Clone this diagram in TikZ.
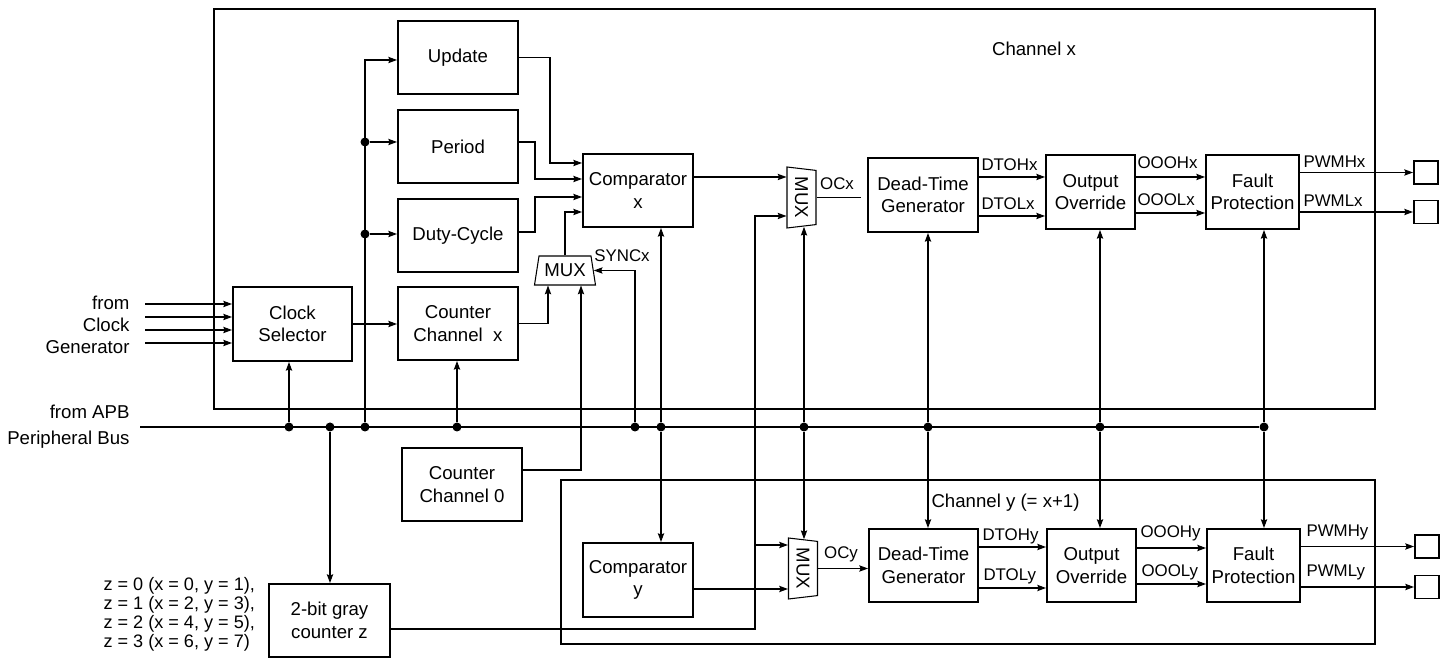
\documentclass[tikz,border=0pt]{standalone}
\usepackage{fontspec}
\setmainfont{Liberation Sans}
\usetikzlibrary{arrows.meta}
\usetikzlibrary{shapes.geometric}

\begin{document}
\begin{tikzpicture}[x=0.02cm,y=-0.02cm,line width=0.6pt,
  >={Stealth[length=5pt,width=3.6pt,inset=0.8pt]},
  blk/.style={draw,line width=1.1pt,align=center,inner sep=1pt,minimum width=2.4cm,minimum height=1.46cm,font=\fontsize{10.6}{12.7}\selectfont},
  frame/.style={draw,line width=1.2pt},
  mux/.style={draw,trapezium,trapezium stretches body,trapezium angle=77,minimum width=1.22cm,minimum height=0.58cm,inner sep=0.5pt,font=\fontsize{10.6}{12}\selectfont},
  sig/.style={font=\fontsize{9.6}{11}\selectfont,inner sep=0pt,anchor=west},
  lbl/.style={font=\fontsize{10.6}{12.7}\selectfont,inner sep=0pt},
  dot/.style={circle,fill,inner sep=0pt,minimum size=0.18cm},
  pin/.style={draw,line width=1.1pt,minimum width=0.48cm,minimum height=0.46cm,inner sep=0pt}]

\useasboundingbox (0,0) rectangle (1448,661);

% channel frames
\draw[frame] (214,9) rectangle (1375,409);
\draw[frame] (561,480) rectangle (1375,644);
\node[lbl] (chx) at (1034,49) {Channel x};
\node[lbl,anchor=west] (chy) at (931,503) {Channel y (= x+1)};

% blocks
\node[blk] (upd) at (458,57.5) {Update};
\node[blk] (per) at (458,146.5) {Period};
\node[blk] (duty) at (458,235.5) {Duty-Cycle};
\node[blk] (cntx) at (458,323.5) {Counter\\Channel~~x};
\node[blk,minimum width=2.38cm,minimum height=1.48cm] (clk) at (292.5,324) {Clock\\Selector};
\node[blk] (cnt0) at (462,484.5) {Counter\\Channel 0};
\node[blk,minimum width=2.42cm] (gray) at (329.5,620.5) {2-bit gray\\counter z};
\node[blk,minimum width=2.2cm] (cmpx) at (638,190.5) {Comparator\\x};
\node[blk,minimum width=2.2cm,minimum height=1.48cm] (cmpy) at (638,580) {Comparator\\y};
\node[blk,minimum width=2.2cm,minimum height=1.48cm] (dtgx) at (923,195) {Dead-Time\\Generator};
\node[blk,minimum width=2.18cm] (dtgy) at (923.5,565.5) {Dead-Time\\Generator};
\node[blk,minimum width=1.78cm,minimum height=1.48cm] (oox) at (1090.5,192) {Output\\Override};
\node[blk,minimum width=1.78cm] (ooy) at (1091.5,565.5) {Output\\Override};
\node[blk,minimum width=1.86cm,minimum height=1.48cm] (fpx) at (1252.5,192) {Fault\\Protection};
\node[blk,minimum width=1.86cm] (fpy) at (1253.5,565.5) {Fault\\Protection};

% multiplexers
\node[mux,trapezium angle=73] (msync) at (565,270.5) {MUX};
\node[mux,rotate=-90] (mx) at (801.5,197.5) {MUX};
\node[mux,rotate=-90] (my) at (803,568.5) {MUX};

% output pins
\node[pin] (pHx) at (1426,172.5) {};
\node[pin] (pLx) at (1426,212) {};
\node[pin] (pHy) at (1427,546.5) {};
\node[pin] (pLy) at (1427,587) {};

% clock inputs
\node[lbl,align=right,anchor=east] (cgen) at (130,325) {from\\Clock\\Generator};
\foreach \y [count=\i] in {304,317,330,343}{
  \coordinate (cin\i) at (145,\y);
  \draw[->] (cin\i) -- (clk.west |- cin\i);
}
\draw[->] (clk.east) -- (cntx.west |- clk.east);

% APB bus
\node[lbl,align=right,anchor=east,font=\fontsize{10.6}{15}\selectfont] (apb) at (130,427) {from APB\\Peripheral Bus};
\coordinate (busL) at (140,427);
\foreach \n/\x in {Clk/289,Gray/330,Reg/365,Cnt/457,Sync/635,Cmp/661,Mux/804,Dt/928,Oo/1100,Fp/1264}
  \node[dot] (b\n) at (\x,427) {};
\draw (busL) -- (bFp);

\draw[->] (bClk) -- (bClk |- clk.south);
\draw[->] (bGray) -- (bGray |- gray.north);
\draw[->] (bReg) |- (upd.west |- 0,60);
\node[dot] (jPer) at (365,142) {};
\node[dot] (jDuty) at (365,234) {};
\draw[->] (jPer) -- (per.west |- jPer);
\draw[->] (jDuty) -- (duty.west |- jDuty);
\draw[->] (bCnt) -- (bCnt |- cntx.south);

% comparator x inputs
\draw[->] (upd.east) -| (550,163) -- (cmpx.west |- 0,163);
\draw[->] (per.east |- 0,142) -| (535,179) -- (cmpx.west |- 0,179);
\draw[->] (duty.east |- 0,232) -| (535,197) -- (cmpx.west |- 0,197);
\draw[->] (cntx.east) -| (msync.south -| 548,0);
\draw[->] (cnt0.east |- 0,470) -| (msync.south -| 581,0);
\draw[->] (bSync) |- (msync.east);
\draw[->] (msync.north) |- (cmpx.west |- 0,212);
\node[sig,anchor=center] (lsync) at (622,256) {SYNCx};

\draw[->] (bCmp) -- (bCmp |- cmpx.south);
\draw[->] (bCmp) -- (bCmp |- cmpy.north);

% output multiplexers
\coordinate (jGray) at (755,545);
\draw[->] (cmpx.east |- 0,177) -- (mx.south |- 0,177);
\draw[->] (gray.east |- 0,629) -| (755,216) -- (mx.south |- 0,216);
\draw[->] (jGray) -- (my.south |- jGray);
\draw[->] (cmpy.east |- 0,589) -- (my.south |- 0,589);
\draw[->] (bMux) -- (bMux |- mx.east);
\draw[->] (bMux) -- (bMux |- my.west);
\draw[shorten >=0.12cm] (mx.north) -- (mx.north -| dtgx.west);
\draw[->] (my.north) -- (my.north -| dtgy.west);
\node[sig,anchor=center] (locx) at (837,184) {OCx};
\node[sig,anchor=center] (locy) at (841,554) {OCy};

\foreach \n/\a/\b in {Dt/dtgx/dtgy,Oo/oox/ooy,Fp/fpx/fpy}{
  \draw[->] (b\n) -- (b\n |- \a.south);
  \draw[->] (b\n) -- (b\n |- \b.north);
}

% channel x signals
\draw[->] (dtgx.east |- 0,177) -- (oox.west |- 0,177);
\draw[->] (dtgx.east |- 0,216) -- (oox.west |- 0,216);
\draw[->] (oox.east |- 0,177) -- (fpx.west |- 0,177);
\draw[->] (oox.east |- 0,213) -- (fpx.west |- 0,213);
\draw[->] (fpx.east |- pHx.west) -- (pHx.west);
\draw[->] (fpx.east |- pLx.west) -- (pLx.west);
\node[sig] (lDTOHx) at (981,165) {DTOHx};
\node[sig] (lDTOLx) at (981,204) {DTOLx};
\node[sig] (lOOOHx) at (1137,163) {OOOHx};
\node[sig] (lOOOLx) at (1137,200) {OOOLx};
\node[sig] (lPWMHx) at (1303,162) {PWMHx};
\node[sig] (lPWMLx) at (1303,201) {PWMLx};

% channel y signals
\draw[->] (dtgy.east |- 0,547) -- (ooy.west |- 0,547);
\draw[->] (dtgy.east |- 0,588) -- (ooy.west |- 0,588);
\draw[->] (ooy.east |- 0,548) -- (fpy.west |- 0,548);
\draw[->] (ooy.east |- 0,584) -- (fpy.west |- 0,584);
\draw[->] (fpy.east |- pHy.west) -- (pHy.west);
\draw[->] (fpy.east |- pLy.west) -- (pLy.west);
\node[sig] (lDTOHy) at (982,536) {DTOHy};
\node[sig] (lDTOLy) at (983,576) {DTOLy};
\node[sig] (lOOOHy) at (1140,533) {OOOHy};
\node[sig] (lOOOLy) at (1141,572) {OOOLy};
\node[sig] (lPWMHy) at (1306,532) {PWMHy};
\node[sig] (lPWMLy) at (1306,572) {PWMLy};

% gray counter mapping
\node[lbl,align=left,anchor=west,font=\fontsize{10.3}{12}\selectfont] (zmap) at (103,614.5) {z = 0 (x = 0, y = 1),\\[-1.2pt] z = 1 (x = 2, y = 3),\\[-1.2pt] z = 2 (x = 4, y = 5),\\[-1.2pt] z = 3 (x = 6, y = 7)};

\end{tikzpicture}
\end{document}
